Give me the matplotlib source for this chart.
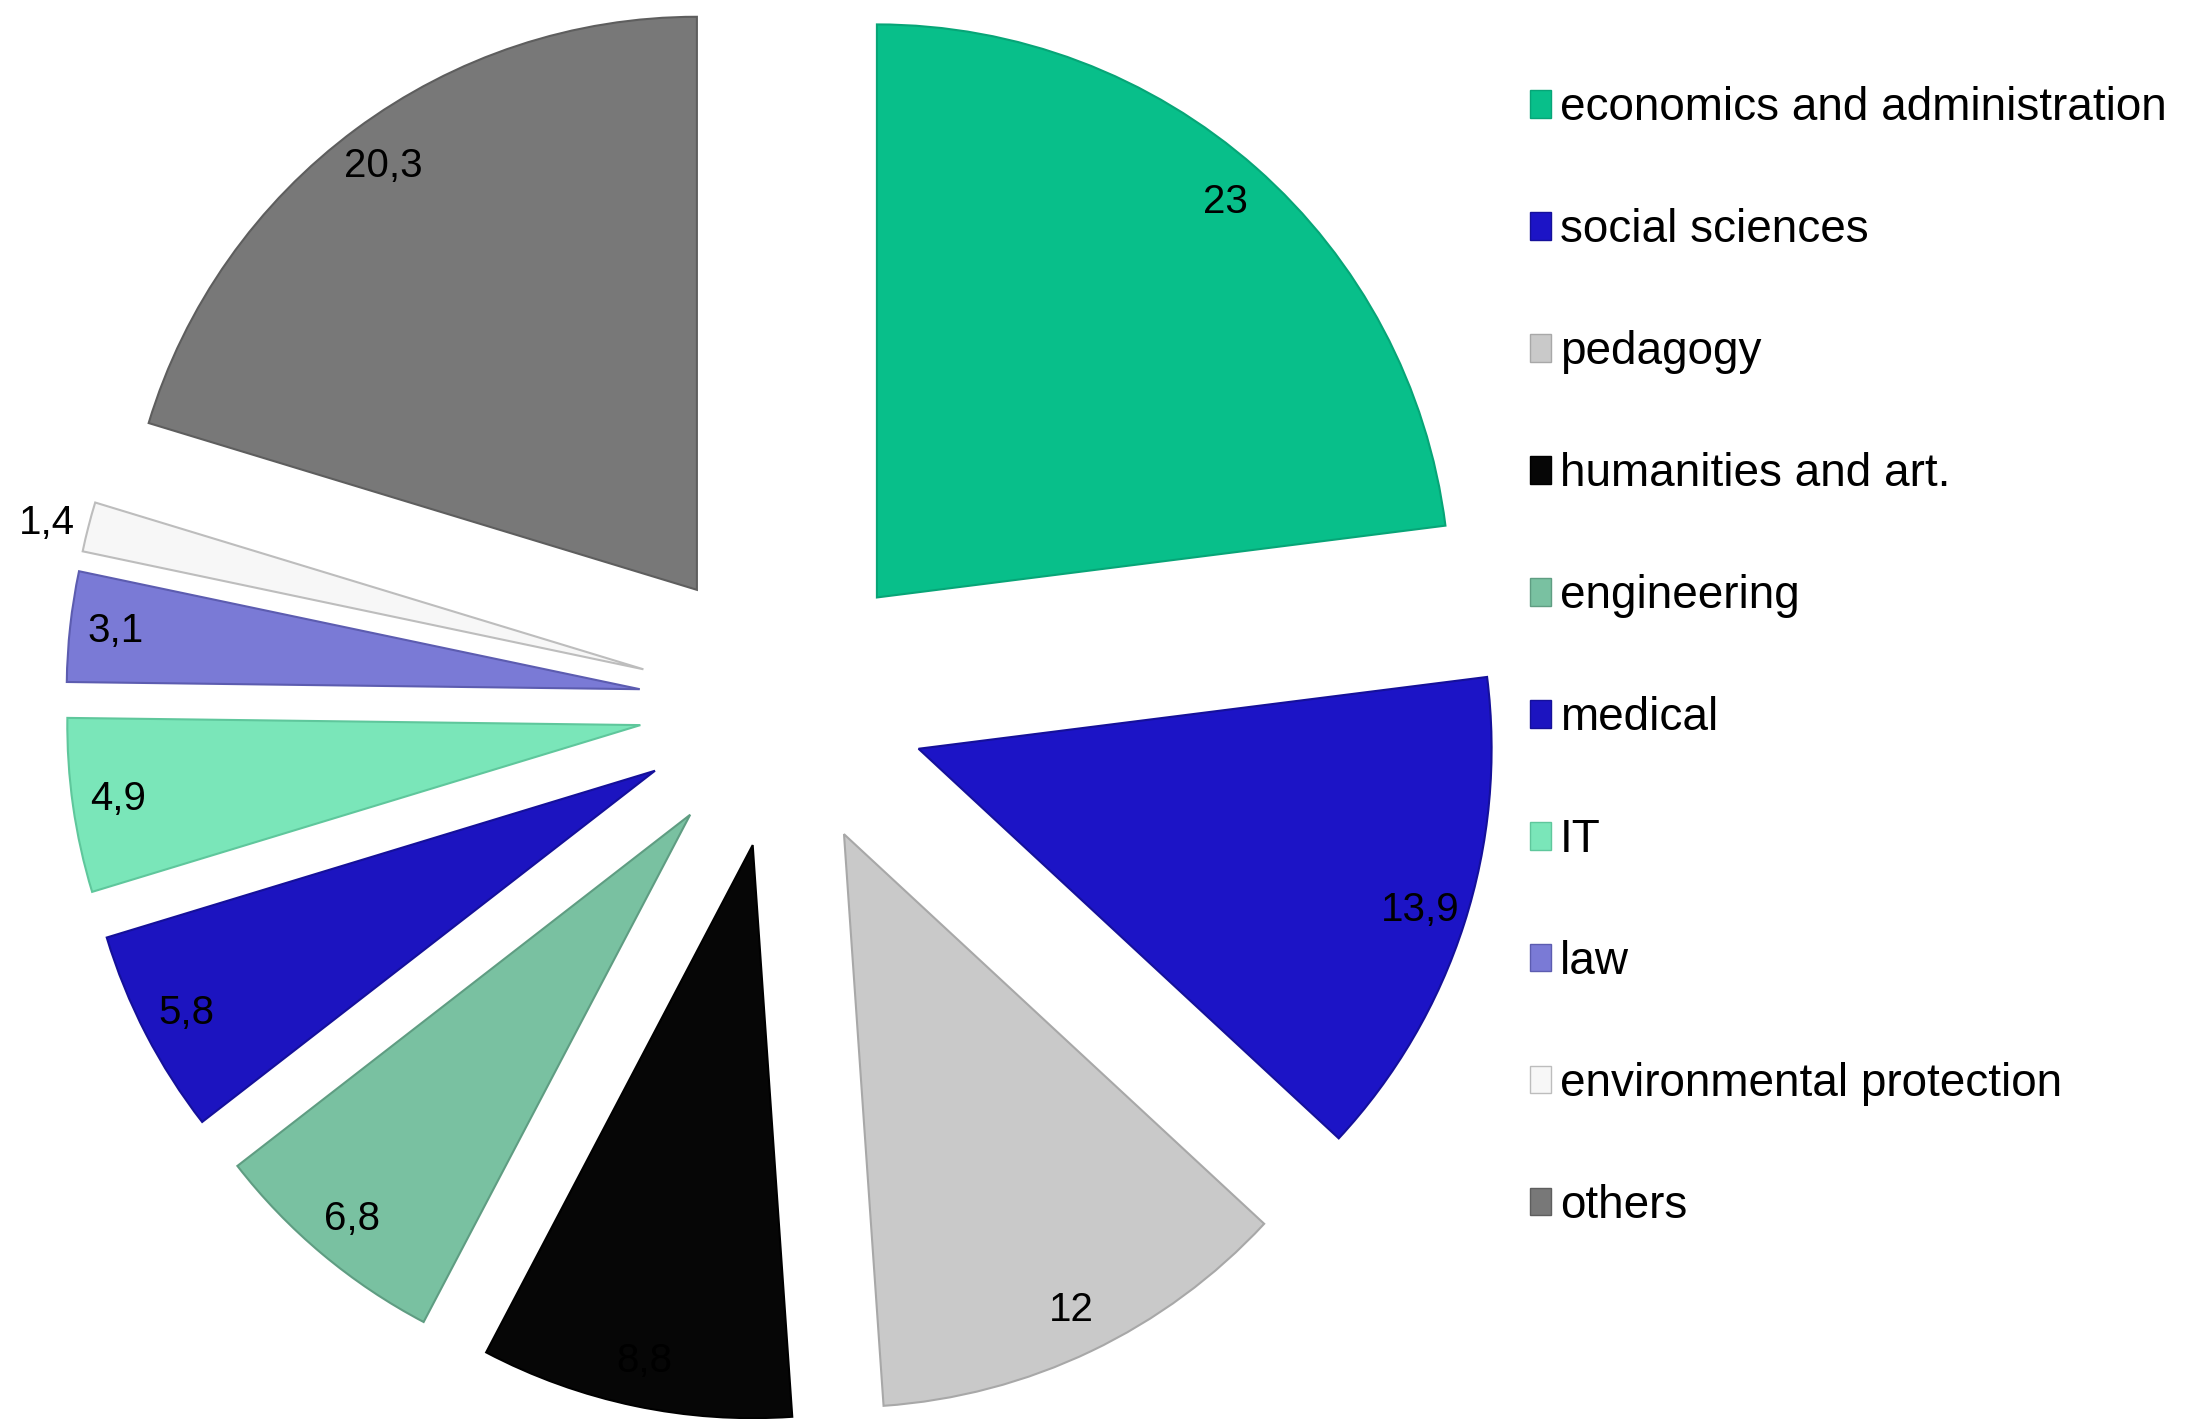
import numpy as np
import matplotlib.pyplot as plt
from matplotlib.patches import Patch

plt.rcParams['font.family'] = ['Liberation Sans', 'DejaVu Sans']

categories = ['economics and administration', 'social sciences', 'pedagogy',
              'humanities and art.', 'engineering', 'medical', 'IT', 'law',
              'environmental protection', 'others']
values = [23, 13.9, 12, 8.8, 6.8, 5.8, 4.9, 3.1, 1.4, 20.3]
colors = ['#08bf8a', '#1c14c6', '#c9c9c9', '#060606', '#79c1a1',
          '#1c14c0', '#7ae6b9', '#7a7ad6', '#f7f7f7', '#787878']
edges = ['#07a577', '#15109a', '#a8a8a8', '#000000', '#5f9d82',
         '#15109a', '#5fc79c', '#5c5cb0', '#bdbdbd', '#5e5e5e']


def fmt(v):
    if float(v).is_integer():
        return str(int(v))
    return f'{v:.1f}'.replace('.', ',')


fig = plt.figure(figsize=(22.01, 14.19), dpi=100)
ax = fig.add_axes([0, 0, 1, 1])

wedges, _ = ax.pie(values, colors=colors, startangle=90, counterclock=False,
                   explode=[0.25] * len(values), radius=1,
                   wedgeprops=dict(linewidth=1.5))
for w, ec in zip(wedges, edges):
    w.set_edgecolor(ec)

# value labels placed along each wedge's mid-angle
for w, v in zip(wedges, values):
    mid = np.deg2rad((w.theta1 + w.theta2) / 2)
    cx, cy = w.center
    dist = 1.025 if v < 2 else 0.92
    x = cx + dist * w.r * np.cos(mid)
    y = cy + dist * w.r * np.sin(mid)
    ha = 'right' if v < 2 else 'center'
    ax.text(x, y, fmt(v), ha=ha, va='center', fontsize=29, color='black')

ax.set_aspect('equal')
ax.set_xlim(-1.365, 2.476)
ax.set_ylim(-1.246, 1.230)
ax.axis('off')

handles = [Patch(facecolor=c, edgecolor=e, linewidth=1) for c, e in zip(colors, edges)]
fig.legend(handles, categories, loc='upper left', bbox_to_anchor=(0.687, 0.952),
           frameon=False, fontsize=33, handlelength=0.45, handleheight=0.55,
           handletextpad=0.2, labelspacing=1.70, borderaxespad=0)

fig.savefig('out.png', dpi=100, facecolor='white')
